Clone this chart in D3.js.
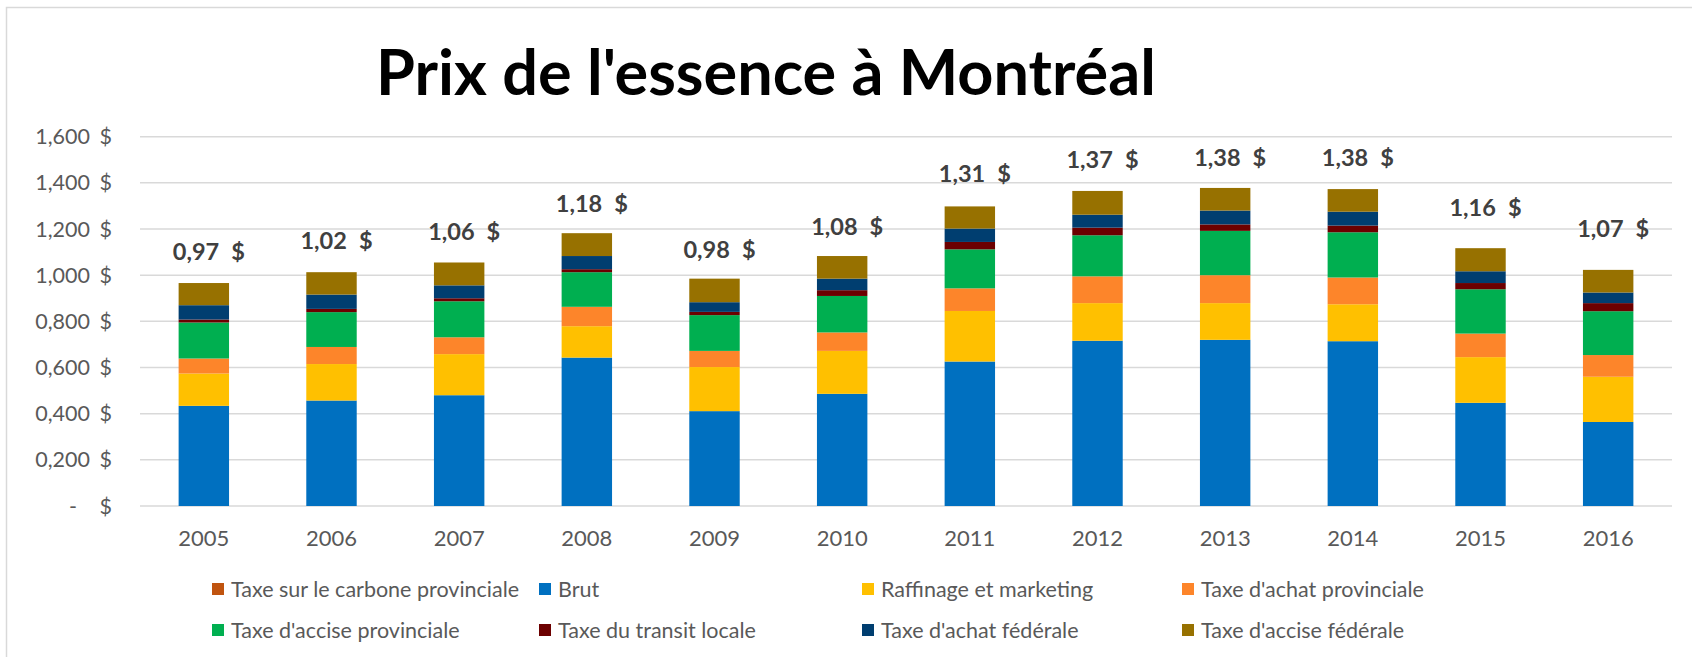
<!DOCTYPE html>
<html>
<head>
<meta charset="utf-8">
<script src="https://cdn.jsdelivr.net/npm/d3@7"></script>
<style>
  html, body { margin: 0; padding: 0; background: #fff; }
  svg { display: block; font-family: Lato, "Open Sans", sans-serif; }
</style>
</head>
<body>
<div id="container"></div>
<script>
// values, in $ per litre
var years = ["2005", "2006", "2007", "2008", "2009", "2010", "2011", "2012", "2013", "2014", "2015", "2016"];
var carbone    = [0, 0, 0, 0, 0, 0, 0, 0, 0, 0, 0, 0];
var brut       = [0.434, 0.457, 0.480, 0.643, 0.411, 0.486, 0.626, 0.716, 0.720, 0.714, 0.447, 0.364];
var raffinage  = [0.140, 0.158, 0.178, 0.136, 0.191, 0.186, 0.219, 0.163, 0.159, 0.160, 0.198, 0.196];
var achatProv  = [0.065, 0.074, 0.073, 0.084, 0.070, 0.080, 0.098, 0.116, 0.121, 0.116, 0.102, 0.094];
var acciseProv = [0.156, 0.151, 0.156, 0.150, 0.155, 0.158, 0.169, 0.178, 0.192, 0.196, 0.192, 0.190];
var transit    = [0.013, 0.014, 0.013, 0.013, 0.014, 0.025, 0.032, 0.033, 0.028, 0.029, 0.027, 0.035];
var achatFed   = [0.062, 0.062, 0.056, 0.057, 0.042, 0.050, 0.058, 0.056, 0.060, 0.060, 0.051, 0.046];
var acciseFed  = [0.096, 0.097, 0.099, 0.099, 0.102, 0.098, 0.096, 0.103, 0.098, 0.098, 0.100, 0.098];
// totals shown above the bars
var totals = [0.97, 1.02, 1.06, 1.18, 0.98, 1.08, 1.31, 1.37, 1.38, 1.38, 1.16, 1.07];
var yTicks = [0, 0.2, 0.4, 0.6, 0.8, 1.0, 1.2, 1.4, 1.6];
var yTickLabels = ["-", "0,200", "0,400", "0,600", "0,800", "1,000", "1,200", "1,400", "1,600"];

var series = [
  { key: "carbone",    name: "Taxe sur le carbone provinciale", color: "#C0540F", values: carbone },
  { key: "brut",       name: "Brut",                            color: "#0070C0", values: brut },
  { key: "raffinage",  name: "Raffinage et marketing",          color: "#FFC000", values: raffinage },
  { key: "achatProv",  name: "Taxe d'achat provinciale",        color: "#FD852A", values: achatProv },
  { key: "acciseProv", name: "Taxe d'accise provinciale",       color: "#00AF50", values: acciseProv },
  { key: "transit",    name: "Taxe du transit locale",          color: "#6C0000", values: transit },
  { key: "achatFed",   name: "Taxe d'achat fédérale",           color: "#003E70", values: achatFed },
  { key: "acciseFed",  name: "Taxe d'accise fédérale",          color: "#977100", values: acciseFed }
];

var width = 1692;
var height = 657;
var gridColor = "#D9D9D9";
var textColor = "#595959";

// build rows for d3.stack
var rows = years.map(function (y, i) {
  var r = { year: y };
  series.forEach(function (s) { r[s.key] = s.values[i]; });
  return r;
});
var stacked = d3.stack().keys(series.map(function (s) { return s.key; }))(rows);

var svg = d3.select("#container").append("svg")
  .attr("width", width)
  .attr("height", height);

svg.append("rect").attr("width", width).attr("height", height).attr("fill", "#fff");

// chart area border (only left and top visible)
svg.append("path")
  .attr("d", "M6.5," + height + "V7.5H" + width)
  .attr("fill", "none")
  .attr("stroke", gridColor)
  .attr("stroke-width", 1.5);

var x = d3.scaleBand()
  .domain(years)
  .range([140, 1672])
  .paddingInner(0.605)
  .paddingOuter(0.3025);

var y = d3.scaleLinear()
  .domain([0, 1.6])
  .range([506, 136.7]);

// title
var title = svg.append("text")
  .attr("x", 766)
  .attr("y", 95)
  .attr("text-anchor", "middle")
  .attr("font-weight", "bold")
  .attr("font-size", 60)
  .attr("fill", "#000")
  .text("Prix de l'essence à Montréal");
var tw = title.node().getComputedTextLength();
title.attr("font-size", 60 * 780 / tw);

// gridlines
svg.append("g").selectAll("line")
  .data(yTicks)
  .enter().append("line")
  .attr("x1", 140).attr("x2", 1672)
  .attr("y1", function (d) { return y(d); })
  .attr("y2", function (d) { return y(d); })
  .attr("stroke", gridColor)
  .attr("stroke-width", 1.5);

// y tick labels, accounting style: number then "$"
var yl = svg.append("g").attr("font-size", 21.5).attr("fill", textColor);
yl.selectAll("text.num")
  .data(yTicks)
  .enter().append("text")
  .attr("class", "num")
  .attr("x", function (d, i) { return i === 0 ? 77 : 90; })
  .attr("y", function (d) { return y(d); })
  .attr("dy", "0.35em")
  .attr("text-anchor", "end")
  .text(function (d, i) { return yTickLabels[i]; });
yl.selectAll("text.cur")
  .data(yTicks)
  .enter().append("text")
  .attr("class", "cur")
  .attr("x", 112)
  .attr("y", function (d) { return y(d); })
  .attr("dy", "0.35em")
  .attr("text-anchor", "end")
  .text("$");

// bars
var colorOf = {};
series.forEach(function (s) { colorOf[s.key] = s.color; });
svg.append("g").selectAll("g")
  .data(stacked)
  .enter().append("g")
  .attr("fill", function (d) { return colorOf[d.key]; })
  .selectAll("rect")
  .data(function (d) { return d; })
  .enter().append("rect")
  .attr("x", function (d) { return x(d.data.year); })
  .attr("width", x.bandwidth())
  .attr("y", function (d) { return y(d[1]); })
  .attr("height", function (d) { return Math.max(0, y(d[0]) - y(d[1])); });

// x labels
svg.append("g").selectAll("text")
  .data(years)
  .enter().append("text")
  .attr("x", function (d) { return x(d) + x.bandwidth() / 2; })
  .attr("y", 538)
  .attr("dy", "0.35em")
  .attr("text-anchor", "middle")
  .attr("font-size", 22)
  .attr("fill", textColor)
  .text(function (d) { return d; });

// total labels
var fmt = function (v) { return v.toFixed(2).replace(".", ","); };
var lbl = svg.append("g").selectAll("text")
  .data(totals)
  .enter().append("text")
  .attr("x", function (d, i) { return x(years[i]) + x.bandwidth() / 2 + 5; })
  .attr("y", function (d) { return y(d) - 30; })
  .attr("dy", "0.35em")
  .attr("text-anchor", "middle")
  .attr("font-size", 23.5)
  .attr("font-weight", "bold")
  .attr("fill", "#404040");
lbl.append("tspan").text(function (d) { return fmt(d); });
lbl.append("tspan").attr("dx", 12).text("$");

// legend, 4 columns x 2 rows
var legX = [212, 539, 862, 1182];
var legY = [589, 630];
var leg = svg.append("g").selectAll("g")
  .data(series)
  .enter().append("g")
  .attr("transform", function (d, i) {
    return "translate(" + legX[i % 4] + "," + legY[Math.floor(i / 4)] + ")";
  });
leg.append("rect")
  .attr("x", 0).attr("y", -6)
  .attr("width", 12).attr("height", 12)
  .attr("fill", function (d) { return d.color; });
leg.append("text")
  .attr("x", 19)
  .attr("dy", "0.35em")
  .attr("font-size", 21.5)
  .attr("fill", textColor)
  .text(function (d) { return d.name; });
</script>
</body>
</html>
